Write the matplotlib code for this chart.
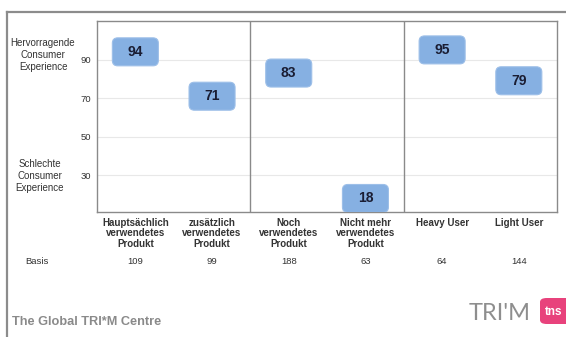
import matplotlib.pyplot as plt
from matplotlib.patches import FancyBboxPatch
from matplotlib.lines import Line2D
import matplotlib.transforms as mtrans

plt.rcParams['font.family'] = ['Liberation Sans', 'DejaVu Sans']

categories = ['Hauptsächlich\nverwendetes\nProdukt', 'zusätzlich\nverwendetes\nProdukt',
              'Noch\nverwendetes\nProdukt', 'Nicht mehr\nverwendetes\nProdukt',
              'Heavy User', 'Light User']
scores = [94, 71, 83, 18, 95, 79]
basis = [109, 99, 188, 63, 64, 144]
yticks = [30, 50, 70, 90]

fig = plt.figure(figsize=(5.66, 3.37), dpi=100)
ax = fig.add_axes([0.1714, 0.371, 0.813, 0.5668])
ax.set_xlim(-0.5, 5.5)
ax.set_ylim(11, 110)

for y in yticks:
    ax.axhline(y, color='#e8e8e8', lw=0.8, zorder=0)
for xd in [1.5, 3.5]:
    ax.axvline(xd, color='#8a8a8a', lw=1.0)
for s in ax.spines.values():
    s.set_color('#8a8a8a')
    s.set_linewidth(1.0)

ax.set_yticks(yticks)
ax.set_yticklabels([str(t) for t in yticks], fontsize=6.8, color='#333333')
ax.set_xticks(range(len(categories)))
ax.set_xticklabels(categories, fontsize=7.0, fontweight='bold', color='#333333', linespacing=1.1)
ax.tick_params(length=0, pad=4)
ax.tick_params(axis='y', pad=4)

# rounded score boxes
bw, bh = 0.6, 14.5
aspect = (99 / 191.0) / (6 / 460.0)
for i, v in enumerate(scores):
    box = FancyBboxPatch((i - bw / 2, v - bh / 2), bw, bh,
                         boxstyle='round,pad=0,rounding_size=0.07',
                         mutation_aspect=aspect, fc='#86b0e2', ec='#9dbfe8', lw=0.8, zorder=3)
    ax.add_patch(box)
    ax.text(i, v, str(v), ha='center', va='center', fontsize=10,
            fontweight='bold', color='#1a1d33', zorder=4)

trans = mtrans.blended_transform_factory(ax.transData, fig.transFigure)
for i, b in enumerate(basis):
    ax.text(i, 1 - 261 / 337, str(b), transform=trans, ha='center', va='center',
            fontsize=6.8, color='#333333')
fig.text(37 / 566, 1 - 261 / 337, 'Basis', ha='center', va='center', fontsize=6.8, color='#333333')

fig.text(43 / 566, 1 - 55 / 337, 'Hervorragende\nConsumer\nExperience', ha='center', va='center',
         fontsize=7.0, color='#333333', linespacing=1.2)
fig.text(40 / 566, 1 - 176 / 337, 'Schlechte\nConsumer\nExperience', ha='center', va='center',
         fontsize=7.0, color='#333333', linespacing=1.2)

# outer frame
fig.add_artist(Line2D([7 / 566, 7 / 566], [0, 1 - 12 / 337], color='#8c8c8c', lw=1.6))
fig.add_artist(Line2D([7 / 566, 1], [1 - 12 / 337, 1 - 12 / 337], color='#8c8c8c', lw=1.6))

# footer
fig.text(12 / 566, 1 - 322 / 337, 'The Global TRI*M Centre', ha='left', va='center',
         fontsize=9.2, fontweight='bold', color='#8a8a8a')
fig.text(531 / 566, 1 - 314 / 337, "TRI'M", ha='right', va='center', fontsize=17,
         color='#8e8e8e', family=['Lato', 'DejaVu Sans'], fontweight='normal')
logo = FancyBboxPatch((540 / 566, 1 - 324 / 337), 40 / 566, 26 / 337,
                      boxstyle='round,pad=0,rounding_size=0.012', transform=fig.transFigure,
                      fc='#e8427c', ec='none')
fig.add_artist(logo)
fig.text(545 / 566, 1 - 312 / 337, 'tns', ha='left', va='center', fontsize=8.5,
         fontweight='bold', color='white')

fig.savefig('out.png', dpi=100)
